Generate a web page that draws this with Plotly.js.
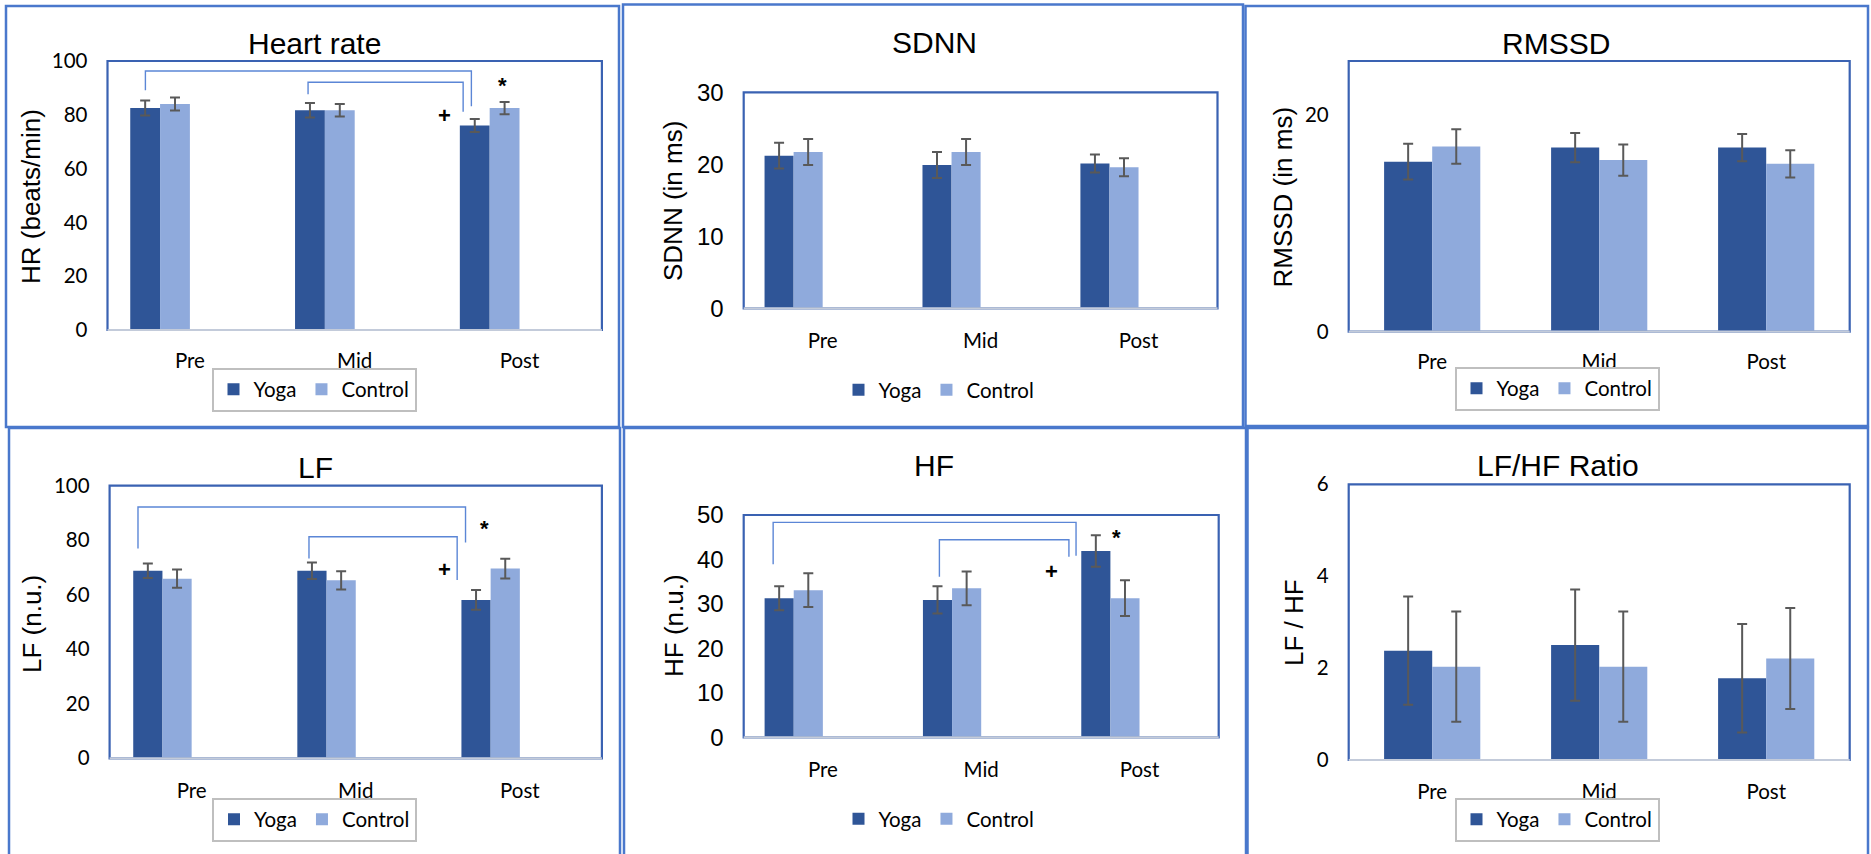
<!DOCTYPE html>
<html>
<head>
<meta charset="utf-8">
<script src="https://cdn.plot.ly/plotly-3.0.1.min.js"></script>
<style>html,body{margin:0;padding:0;background:#fff}#chart{width:1871px;height:854px}</style>
</head>
<body>
<div id="chart"></div>
<script>
// ---------- data ----------
const categories = ['Pre', 'Mid', 'Post'];
const seriesNames = ['Yoga', 'Control'];

const hrYoga = [82.5, 81.7, 76.0];
const hrYogaErr = [2.8, 2.7, 2.4];
const hrControl = [84.0, 81.7, 82.5];
const hrControlErr = [2.4, 2.3, 2.3];

const sdnnYoga = [21.2, 19.9, 20.1];
const sdnnYogaErr = [1.8, 1.8, 1.25];
const sdnnControl = [21.7, 21.7, 19.6];
const sdnnControlErr = [1.8, 1.8, 1.25];

const rmssdYoga = [15.7, 17.0, 17.0];
const rmssdYogaErr = [1.65, 1.35, 1.26];
const rmssdControl = [17.1, 15.85, 15.5];
const rmssdControlErr = [1.6, 1.45, 1.26];

const lfYoga = [68.8, 68.8, 58.1];
const lfYogaErr = [2.7, 3.0, 3.6];
const lfControl = [65.9, 65.3, 69.6];
const lfControlErr = [3.35, 3.35, 3.6];

const hfYoga = [31.3, 30.9, 41.9];
const hfYogaErr = [2.7, 3.05, 3.55];
const hfControl = [33.1, 33.5, 31.3];
const hfControlErr = [3.8, 3.8, 4.0];

const ratioYoga = [2.38, 2.50, 1.78];
const ratioYogaErr = [1.18, 1.21, 1.18];
const ratioControl = [2.03, 2.03, 2.21];
const ratioControlErr = [1.2, 1.2, 1.1];

// significance brackets: [x start, x end, y at start, y of top, y at end]
const hrBrackets = [[-0.270, 1.708, 89.1, 96.3, 83.2], [0.717, 1.658, 87.6, 92.1, 81.1]];
const lfBrackets = [[-0.327, 1.669, 77.0, 92.2, 79.2], [0.715, 1.618, 73.3, 81.3, 65.4]];
const hfBrackets = [[-0.314, 1.599, 38.9, 48.35, 40.85], [0.736, 1.554, 36.1, 44.45, 40.6]];
// significance marks: [text, x, y]
const hrMarks = [['+', 1.544, 79.8], ['*', 1.894, 91.0]];
const lfMarks = [['+', 1.540, 69.1], ['*', 1.783, 84.4]];
const hfMarks = [['+', 1.447, 37.3], ['*', 1.853, 44.9]];

// ---------- styling / layout ----------
const W = 1871, H = 854;
const LATO = 'Lato, Carlito, Calibri, sans-serif';
const ARIAL = '"Liberation Sans", Arial, Helvetica, sans-serif';
const YOGA_COLOR = '#2F5597';
const CONTROL_COLOR = '#8FAADC';
const ERR_COLOR = '#595959';
const px = v => v / W;
const py = v => (H - v) / H;

const panels = [
  {title: 'Heart rate', ytitle: 'HR (beats/min)', yoga: hrYoga, yogaErr: hrYogaErr, control: hrControl, controlErr: hrControlErr,
   range: [0, 100], tickvals: [0, 20, 40, 60, 80, 100], yfont: LATO, yfs: 20.5, slots: 4, bw: 0.181, xstand: 16,
   plot: [107.5, 601.9, 61, 330], frame: [6, 619, 6, 427], titlePos: [314, 44], ytitlePos: [31, 197],
   legendPos: [314, 389.5], legendBox: true, brackets: hrBrackets, marks: hrMarks},
  {title: 'SDNN', ytitle: 'SDNN (in ms)', yoga: sdnnYoga, yogaErr: sdnnYogaErr, control: sdnnControl, controlErr: sdnnControlErr,
   range: [0, 30], tickvals: [0, 10, 20, 30], yfont: ARIAL, yfs: 24, slots: 4, bw: 0.184, xstand: 18,
   plot: [743.7, 1217.5, 92.3, 308.3], frame: [623, 1243, 4.5, 427], titlePos: [934, 42.5], ytitlePos: [673, 201],
   legendPos: [939, 390], legendBox: false, brackets: [], marks: []},
  {title: 'RMSSD', ytitle: 'RMSSD (in ms)', yoga: rmssdYoga, yogaErr: rmssdYogaErr, control: rmssdControl, controlErr: rmssdControlErr,
   range: [0, 25], tickvals: [0, 20], yfont: LATO, yfs: 20.5, slots: 2, bw: 0.288, xstand: 16,
   plot: [1348.7, 1849.7, 61, 331.7], frame: [1245.5, 1868, 6, 426], titlePos: [1556, 44], ytitlePos: [1283, 197.5],
   legendPos: [1557, 388.5], legendBox: true, brackets: [], marks: []},
  {title: 'LF', ytitle: 'LF (n.u.)', yoga: lfYoga, yogaErr: lfYogaErr, control: lfControl, controlErr: lfControlErr,
   range: [0, 100], tickvals: [0, 20, 40, 60, 80, 100], yfont: LATO, yfs: 20.5, slots: 4, bw: 0.178, xstand: 18,
   plot: [109.6, 601.9, 485.7, 758.3], frame: [9, 620, 428, 870], titlePos: [315, 467], ytitlePos: [32, 624],
   legendPos: [314.5, 819.5], legendBox: true, brackets: lfBrackets, marks: lfMarks},
  {title: 'HF', ytitle: 'HF (n.u.)', yoga: hfYoga, yogaErr: hfYogaErr, control: hfControl, controlErr: hfControlErr,
   range: [0, 50], tickvals: [0, 10, 20, 30, 40, 50], yfont: ARIAL, yfs: 24, slots: 4, bw: 0.184, xstand: 18,
   plot: [743.7, 1218.7, 515, 737.3], frame: [624, 1246, 428, 870], titlePos: [934, 466], ytitlePos: [674, 626],
   legendPos: [939, 819], legendBox: false, brackets: hfBrackets, marks: hfMarks},
  {title: 'LF/HF Ratio', ytitle: 'LF / HF', yoga: ratioYoga, yogaErr: ratioYogaErr, control: ratioControl, controlErr: ratioControlErr,
   range: [0, 6], tickvals: [0, 2, 4, 6], yfont: LATO, yfs: 20.5, slots: 2, bw: 0.288, xstand: 17,
   plot: [1348.7, 1849.7, 484.3, 760], frame: [1247.5, 1868, 428, 870], titlePos: [1558, 466], ytitlePos: [1294, 623],
   legendPos: [1557, 819.5], legendBox: true, brackets: [], marks: []}
];

const traces = [];
const layout = {
  width: W, height: H, margin: {l: 0, r: 0, t: 0, b: 0},
  paper_bgcolor: '#fff', plot_bgcolor: 'rgba(0,0,0,0)',
  showlegend: true, shapes: [], annotations: []
};
const xIdx = categories.map((c, i) => i);

panels.forEach((P, k) => {
  const n = k === 0 ? '' : String(k + 1);
  const xId = 'x' + n, yId = 'y' + n;
  const legId = 'legend' + n;
  const [x0, x1, yt, yb] = P.plot;

  layout['xaxis' + n] = {
    domain: [px(x0), px(x1)], anchor: yId, range: [-0.5, 2.5],
    tickvals: xIdx, ticktext: categories, ticks: '', ticklabelstandoff: P.xstand,
    showgrid: false, zeroline: false, showline: false, fixedrange: true,
    tickfont: {family: LATO, size: 20.5, color: '#000'}
  };
  layout['yaxis' + n] = {
    domain: [py(yb), py(yt)], anchor: xId, range: P.range,
    tickvals: P.tickvals, ticks: '', ticklabelstandoff: 19,
    showgrid: false, zeroline: false, showline: false, fixedrange: true,
    tickfont: {family: P.yfont, size: P.yfs, color: '#000'}
  };

  const w = P.bw;
  const yogaOffset = P.slots === 4 ? -2 * w : -w;
  const controlOffset = yogaOffset + w;
  [[P.yoga, P.yogaErr, YOGA_COLOR, yogaOffset, seriesNames[0]],
   [P.control, P.controlErr, CONTROL_COLOR, controlOffset, seriesNames[1]]].forEach(([vals, errs, col, off, name]) => {
    traces.push({
      type: 'bar', x: xIdx, y: vals, xaxis: xId, yaxis: yId, name: name,
      legend: legId, width: w, offset: off,
      marker: {color: col, line: {width: 0}},
      error_y: {type: 'data', array: errs, visible: true, color: ERR_COLOR, thickness: 2, width: 5},
      hoverinfo: 'skip'
    });
  });

  layout[legId] = {
    x: px(P.legendPos[0]), y: py(P.legendPos[1]), xanchor: 'center', yanchor: 'middle',
    orientation: 'h', bgcolor: 'rgba(255,255,255,1)',
    bordercolor: P.legendBox ? '#BFBFBF' : 'rgba(0,0,0,0)', borderwidth: P.legendBox ? 2 : 0,
    font: {family: LATO, size: 20.5, color: '#000'}, itemwidth: 30, traceorder: 'normal'
  };

  // outer panel frame
  layout.shapes.push({type: 'rect', xref: 'paper', yref: 'paper',
    x0: px(P.frame[0]), x1: px(P.frame[1]), y0: py(P.frame[3]), y1: py(P.frame[2]),
    line: {color: '#4A78CC', width: 2.5}, layer: 'below'});
  // plot area box
  layout.shapes.push({type: 'rect', xref: xId + ' domain', yref: yId + ' domain',
    x0: 0, x1: 1, y0: 0, y1: 1, line: {color: '#3A62B2', width: 2.2}, layer: 'above'});
  layout.shapes.push({type: 'line', xref: xId + ' domain', yref: yId + ' domain',
    x0: 0, x1: 1, y0: 0, y1: 0, line: {color: '#C3CBDA', width: 2.2}, layer: 'above'});

  P.brackets.forEach(b => {
    layout.shapes.push({type: 'path', xref: xId, yref: yId,
      path: `M${b[0]},${b[2]} L${b[0]},${b[3]} L${b[1]},${b[3]} L${b[1]},${b[4]}`,
      line: {color: '#5B86D6', width: 1.4}, layer: 'above'});
  });
  P.marks.forEach(m => {
    layout.annotations.push({text: '<b>' + m[0] + '</b>', xref: xId, yref: yId, x: m[1], y: m[2],
      showarrow: false, xanchor: 'center', yanchor: 'middle',
      font: {family: ARIAL, size: 22, color: '#000'}});
  });

  layout.annotations.push({text: P.title, xref: 'paper', yref: 'paper',
    x: px(P.titlePos[0]), y: py(P.titlePos[1]), xanchor: 'center', yanchor: 'middle',
    showarrow: false, font: {family: ARIAL, size: 30, color: '#000'}});
  layout.annotations.push({text: P.ytitle, xref: 'paper', yref: 'paper',
    x: px(P.ytitlePos[0]), y: py(P.ytitlePos[1]), xanchor: 'center', yanchor: 'middle',
    textangle: -90, showarrow: false, font: {family: ARIAL, size: 26, color: '#000'}});
});

Plotly.newPlot('chart', traces, layout, {displayModeBar: false, staticPlot: true});
</script>
</body>
</html>
